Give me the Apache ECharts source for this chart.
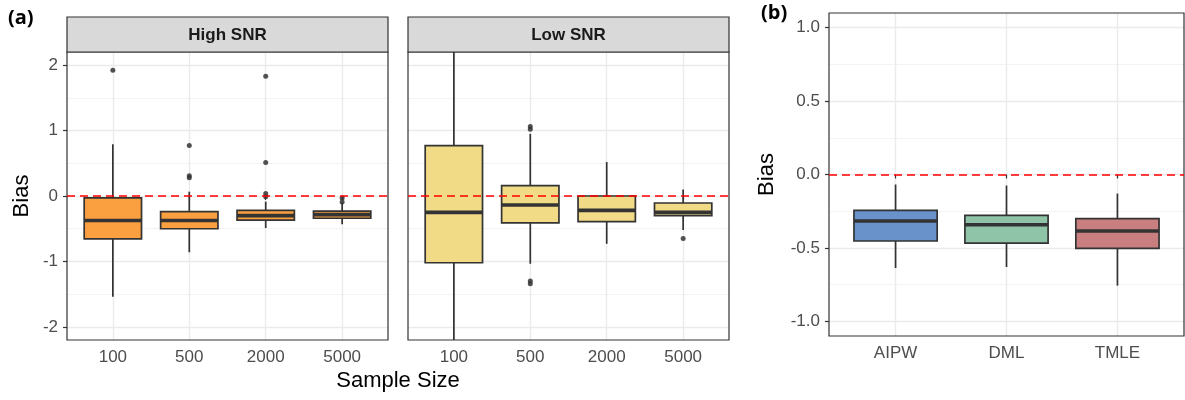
<!DOCTYPE html>
<html>
<head>
<meta charset="utf-8">
<script src="https://cdn.jsdelivr.net/npm/echarts@6/dist/echarts.min.js"></script>
<style>
  html, body { margin: 0; padding: 0; background: #fff; }
  #main { width: 1185px; height: 400px; }
</style>
</head>
<body>
<div id="main"></div>
<script>
// sample sizes on the x axis of panel (a)
var sampleSizes = ['100', '500', '2000', '5000']
// box stats: [min, q1, median, q3, max]
var highSNR = [
  [-1.54, -0.655, -0.375, -0.03, 0.79],
  [-0.86, -0.50, -0.375, -0.24, 0.066],
  [-0.49, -0.37, -0.30, -0.22, -0.086],
  [-0.43, -0.34, -0.285, -0.23, -0.10]
]
var highOutliers = [
  [1, 1.92], [2, 0.77], [2, 0.31], [2, 0.28],
  [3, 1.83], [3, 0.51], [3, 0.04], [3, -0.01],
  [4, -0.03], [4, -0.09]
]
var lowSNR = [
  [-2.9, -1.02, -0.25, 0.77, 2.6],
  [-1.035, -0.41, -0.137, 0.157, 0.95],
  [-0.73, -0.39, -0.22, 0.0, 0.52],
  [-0.52, -0.30, -0.25, -0.107, 0.10]
]
var lowOutliers = [
  [2, 1.06], [2, 1.02], [2, -1.30], [2, -1.34],
  [4, -0.65]
]
// panel (b)
var methods = ['AIPW', 'DML', 'TMLE']
var methodStats = [
  [-0.637, -0.453, -0.317, -0.245, -0.068],
  [-0.63, -0.467, -0.342, -0.279, -0.075],
  [-0.757, -0.503, -0.385, -0.30, -0.13]
]
var methodColors = ['#6892c9', '#8fc4a9', '#c97f7f']

var axisGrey = '#4d4d4d'
var darkLine = '#333333'

var myChart = echarts.init(document.getElementById('main'))

// 箱线图: ggplot 风格（无须端横线，中位线加粗）
function boxItem(params, api) {
  var x = api.value(0)
  var half = api.size([1, 0])[0] * 0.375
  var lo = api.coord([x, api.value(1)])
  var q1 = api.coord([x, api.value(2)])
  var md = api.coord([x, api.value(3)])
  var q3 = api.coord([x, api.value(4)])
  var hi = api.coord([x, api.value(5)])
  var fill = api.visual('color')
  return {
    type: 'group',
    children: [
      { type: 'line', shape: { x1: lo[0], y1: lo[1], x2: q1[0], y2: q1[1] }, style: { stroke: darkLine, lineWidth: 1.7 } },
      { type: 'line', shape: { x1: q3[0], y1: q3[1], x2: hi[0], y2: hi[1] }, style: { stroke: darkLine, lineWidth: 1.7 } },
      { type: 'rect', shape: { x: q1[0] - half, y: q3[1], width: half * 2, height: q1[1] - q3[1] }, style: { fill: fill, stroke: darkLine, lineWidth: 1.7 } },
      { type: 'line', shape: { x1: md[0] - half, y1: md[1], x2: md[0] + half, y2: md[1] }, style: { stroke: darkLine, lineWidth: 3.6 } }
    ]
  }
}

function toBoxData(stats, colors) {
  return stats.map(function (s, i) {
    var item = { value: [i + 1].concat(s) }
    if (colors) item.itemStyle = { color: colors[i] }
    return item
  })
}

function xAxisFor(gridIndex, names) {
  var ticks = names.map(function (n, i) { return i + 1 })
  return {
    type: 'value', gridIndex: gridIndex, min: 0.4, max: names.length + 0.6,
    axisLine: { show: false },
    axisTick: { show: true, customValues: ticks, length: 4, lineStyle: { color: darkLine, width: 1.2 } },
    axisLabel: {
      customValues: ticks, margin: 9, color: axisGrey, fontSize: 17, fontFamily: 'Liberation Sans',
      formatter: function (v) { return names[Math.round(v) - 1] }
    },
    splitLine: { show: true, lineStyle: { color: '#ebebeb', width: 1.4 } }
  }
}

function yAxisFor(gridIndex, lim, major, showLabels, fmt, name, gap) {
  return {
    type: 'value', gridIndex: gridIndex, min: -lim, max: lim,
    name: name || '', nameLocation: 'middle', nameGap: gap || 34, nameRotate: 90,
    nameTextStyle: { color: '#000', fontSize: 22, fontFamily: 'Liberation Sans' },
    axisLine: { show: false },
    axisTick: { show: showLabels, customValues: major, length: 4, lineStyle: { color: darkLine, width: 1.2 } },
    axisLabel: {
      show: showLabels, customValues: major, margin: 9, color: axisGrey, fontSize: 17, fontFamily: 'Liberation Sans',
      formatter: fmt
    },
    splitLine: { show: true, lineStyle: { color: '#ebebeb', width: 1.4 } }
  }
}

function minorAxisFor(gridIndex, lim, minor) {
  return {
    type: 'value', gridIndex: gridIndex, min: -lim, max: lim, position: 'left',
    axisLine: { show: false },
    axisTick: { show: false, customValues: minor },
    axisLabel: { show: false, customValues: minor },
    splitLine: { show: true, lineStyle: { color: '#f3f3f3', width: 1 } }
  }
}

var zeroLine = {
  silent: true, symbol: 'none', z: 10,
  label: { show: false },
  lineStyle: { color: '#ff0000', type: [8, 5], width: 1.5 },
  data: [{ yAxis: 0 }]
}

var fmtA = function (v) { return String(Math.round(v)) }
var fmtB = function (v) { return v.toFixed(1) }

var option = {
  animation: false,
  grid: [
    { left: 67, top: 52, width: 321, height: 288, show: true, borderColor: darkLine, borderWidth: 1.2, backgroundColor: 'transparent', z: 5 },
    { left: 408, top: 52, width: 321, height: 288, show: true, borderColor: darkLine, borderWidth: 1.2, backgroundColor: 'transparent', z: 5 },
    { left: 829, top: 13, width: 355, height: 323, show: true, borderColor: darkLine, borderWidth: 1.2, backgroundColor: 'transparent', z: 5 }
  ],
  xAxis: [
    xAxisFor(0, sampleSizes),
    xAxisFor(1, sampleSizes),
    xAxisFor(2, methods)
  ],
  yAxis: [
    yAxisFor(0, 2.2, [-2, -1, 0, 1, 2], true, fmtA, 'Bias', 34),
    yAxisFor(1, 2.2, [-2, -1, 0, 1, 2], false, fmtA),
    yAxisFor(2, 1.1, [-1, -0.5, 0, 0.5, 1], true, fmtB, 'Bias', 51),
    minorAxisFor(0, 2.2, [-1.5, -0.5, 0.5, 1.5]),
    minorAxisFor(1, 2.2, [-1.5, -0.5, 0.5, 1.5]),
    minorAxisFor(2, 1.1, [-0.75, -0.25, 0.25, 0.75])
  ],
  series: [
    {
      type: 'custom', xAxisIndex: 0, yAxisIndex: 0, clip: true, z: 3,
      itemStyle: { color: '#fba040' },
      renderItem: boxItem, encode: { x: 0, y: [1, 2, 3, 4, 5] },
      data: toBoxData(highSNR)
    },
    {
      type: 'scatter', xAxisIndex: 0, yAxisIndex: 0, symbolSize: 5, z: 4,
      itemStyle: { color: '#333', opacity: 0.85 },
      data: highOutliers, markLine: zeroLine
    },
    {
      type: 'custom', xAxisIndex: 1, yAxisIndex: 1, clip: true, z: 3,
      itemStyle: { color: '#f2db87' },
      renderItem: boxItem, encode: { x: 0, y: [1, 2, 3, 4, 5] },
      data: toBoxData(lowSNR)
    },
    {
      type: 'scatter', xAxisIndex: 1, yAxisIndex: 1, symbolSize: 5, z: 4,
      itemStyle: { color: '#333', opacity: 0.85 },
      data: lowOutliers, markLine: zeroLine
    },
    {
      type: 'custom', xAxisIndex: 2, yAxisIndex: 2, clip: true, z: 3,
      renderItem: boxItem, encode: { x: 0, y: [1, 2, 3, 4, 5] },
      data: toBoxData(methodStats, methodColors)
    },
    {
      type: 'scatter', xAxisIndex: 2, yAxisIndex: 2, symbolSize: 5, z: 4,
      data: [], markLine: zeroLine
    }
  ],
  graphic: [
    { type: 'rect', shape: { x: 67, y: 17, width: 321, height: 35 }, style: { fill: '#d9d9d9', stroke: darkLine, lineWidth: 1.2 }, z: 6 },
    { type: 'text', x: 227.5, y: 35, style: { text: 'High SNR', fill: '#1a1a1a', font: 'bold 17px "Liberation Sans"', align: 'center', verticalAlign: 'middle' }, z: 7 },
    { type: 'rect', shape: { x: 408, y: 17, width: 321, height: 35 }, style: { fill: '#d9d9d9', stroke: darkLine, lineWidth: 1.2 }, z: 6 },
    { type: 'text', x: 568.5, y: 35, style: { text: 'Low SNR', fill: '#1a1a1a', font: 'bold 17px "Liberation Sans"', align: 'center', verticalAlign: 'middle' }, z: 7 },
    { type: 'text', x: 398, y: 381, style: { text: 'Sample Size', fill: '#000', font: '22px "Liberation Sans"', align: 'center', verticalAlign: 'middle' } },
    { type: 'text', x: 8, y: 18, style: { text: '(a)', fill: '#000', font: 'bold 20px "Open Sans"', align: 'left', verticalAlign: 'middle' } },
    { type: 'text', x: 761, y: 13, style: { text: '(b)', fill: '#000', font: 'bold 20px "Open Sans"', align: 'left', verticalAlign: 'middle' } }
  ]
}

myChart.setOption(option)
</script>
</body>
</html>
